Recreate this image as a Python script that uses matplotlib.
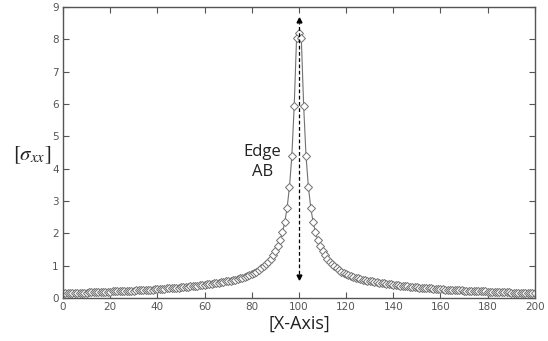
import numpy as np
from matplotlib import pyplot as plt

# stress values, x = 0..100 (left branch, peak at 100)
left_vals = [0.145, 0.147, 0.15, 0.152, 0.155, 0.157, 0.16, 0.162, 0.165, 0.167,
             0.17, 0.173, 0.176, 0.179, 0.182, 0.185, 0.188, 0.191, 0.194, 0.197,
             0.20, 0.203, 0.206, 0.209, 0.212, 0.215, 0.218, 0.221, 0.224, 0.227,
             0.23, 0.235, 0.24, 0.244, 0.248, 0.252, 0.256, 0.26, 0.263, 0.267,
             0.27, 0.28, 0.285, 0.29, 0.295, 0.30, 0.31, 0.315, 0.32, 0.325,
             0.33, 0.34, 0.345, 0.355, 0.36, 0.37, 0.375, 0.385, 0.39, 0.40,
             0.41, 0.42, 0.43, 0.44, 0.45, 0.46, 0.475, 0.49, 0.50, 0.515,
             0.53, 0.54, 0.555, 0.57, 0.59, 0.61, 0.63, 0.65, 0.68, 0.71,
             0.74, 0.78, 0.82, 0.87, 0.92, 0.98, 1.04, 1.12, 1.21, 1.32,
             1.45, 1.60, 1.80, 2.03, 2.35, 2.80, 3.45, 4.40, 5.95, 8.05,
             8.20]
# x = 101..200 (right branch)
right_vals = [8.05, 5.95, 4.40, 3.45, 2.80, 2.35, 2.03, 1.80, 1.60, 1.45,
              1.32, 1.21, 1.12, 1.04, 0.98, 0.92, 0.87, 0.82, 0.78, 0.74,
              0.71, 0.68, 0.65, 0.63, 0.61, 0.59, 0.57, 0.555, 0.54, 0.53,
              0.515, 0.50, 0.49, 0.475, 0.46, 0.45, 0.44, 0.43, 0.42, 0.41,
              0.40, 0.39, 0.385, 0.375, 0.37, 0.36, 0.355, 0.345, 0.34, 0.33,
              0.325, 0.32, 0.315, 0.31, 0.30, 0.295, 0.29, 0.285, 0.28, 0.27,
              0.267, 0.263, 0.26, 0.256, 0.252, 0.248, 0.244, 0.24, 0.235, 0.23,
              0.227, 0.224, 0.221, 0.218, 0.215, 0.212, 0.209, 0.206, 0.203, 0.20,
              0.197, 0.194, 0.191, 0.188, 0.185, 0.182, 0.179, 0.176, 0.173, 0.17,
              0.167, 0.165, 0.162, 0.16, 0.157, 0.155, 0.152, 0.15, 0.147, 0.145]

x_vals = list(range(0, 201))
sigma_xx = left_vals + right_vals

edge_x = 100
arrow_bottom = 0.65
arrow_top = 8.6

x_ticks = [0, 20, 40, 60, 80, 100, 120, 140, 160, 180, 200]
y_ticks = [0, 1, 2, 3, 4, 5, 6, 7, 8, 9]

plt.rcParams['mathtext.fontset'] = 'stix'

fig = plt.figure(figsize=(5.48, 3.41), dpi=100)
ax = fig.add_axes([0.115, 0.126, 0.861, 0.853])

ax.plot(x_vals, sigma_xx, color='#707070', lw=0.8, marker='D', ms=4.3,
        mfc='white', mec='#707070', mew=0.7)

# dashed double arrow marking the edge
ax.plot([edge_x, edge_x], [arrow_bottom + 0.1, arrow_top - 0.1], color='black',
        lw=0.9, ls=(0, (3, 2)))
ax.plot(edge_x, arrow_top, marker='^', color='black', ms=3.5)
ax.plot(edge_x, arrow_bottom, marker='v', color='black', ms=3.5)

ax.text(84.5, 4.2, 'Edge\nAB', ha='center', va='center', fontsize=12,
        color='#222222', family='Open Sans', linespacing=1.3)

ax.set_xlim(0, 200)
ax.set_ylim(0, 9)
ax.set_xticks(x_ticks)
ax.set_yticks(y_ticks)

ax.tick_params(direction='in', top=True, right=True, length=4, width=0.8,
               color='#555555', labelsize=7.5, labelcolor='#555555', pad=3)
for s in ax.spines.values():
    s.set_color('#555555')
    s.set_linewidth(1.0)

ax.set_xlabel('[X-Axis]', fontsize=13, color='#222222', family='Open Sans',
              labelpad=2)
fig.text(0.058, 0.545, r'$[\sigma_{xx}]$', fontsize=15, ha='center',
         va='center', color='#222222')

plt.savefig('out.png', dpi=100)
